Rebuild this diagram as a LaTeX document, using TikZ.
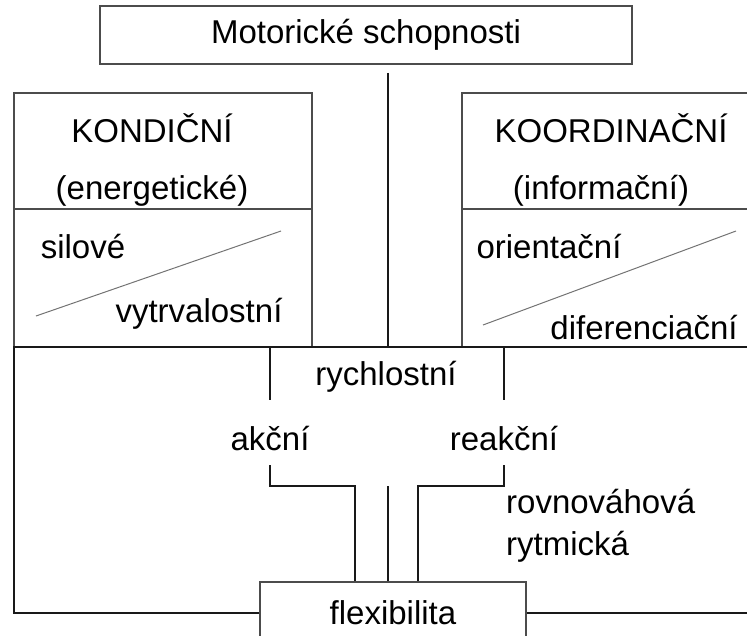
\documentclass[tikz,border=0pt]{standalone}
\usepackage{fontspec}
\setmainfont{Liberation Sans}
\usetikzlibrary{positioning,calc}
\tikzset{
  label-text/.style={font=\fontsize{33}{38}\selectfont,inner sep=0pt,anchor=base},
  frame-box/.style={draw=black!70,line width=1.5pt},
  link/.style={draw=black!90,line width=1.5pt},
  slash/.style={draw=black!55,line width=1pt},
}
\begin{document}
\begin{tikzpicture}[x=1pt,y=-1pt]
  \clip (0,0) rectangle (747,635);
  % top box
  \node[frame-box,font=\fontsize{33}{38}\selectfont,minimum width=532pt,minimum height=58pt,inner sep=0pt] (motor) at (366,35) {Motorické schopnosti};
  % side boxes
  \draw[frame-box] (14,93) rectangle (312,347);
  \draw[frame-box] (14,209) -- (312,209);
  \draw[frame-box] (462,93) rectangle (760,347);
  \draw[frame-box] (462,209) -- (760,209);
  \node[label-text] (kondic) at (152,142) {KONDIČNÍ};
  \node[label-text] (energ) at (152,199) {(energetické)};
  \node[label-text] (silove) at (83,258) {silové};
  \node[label-text] (vytrv) at (199,322) {vytrvalostní};
  \draw[slash] (36,316) -- (281,231);
  \node[label-text] (koordin) at (611,142) {KOORDINAČNÍ};
  \node[label-text] (inform) at (601,199) {(informační)};
  \node[label-text] (orient) at (549,258) {orientační};
  \node[label-text] (difer) at (644,339) {diferenciační};
  \draw[slash] (483,325) -- (736,231);
  % lower part
  \node[label-text] (rychl) at (386,385) {rychlostní};
  \node[label-text] (akcni) at (270,450) {akční};
  \node[label-text] (reakcni) at (504,450) {reakční};
  \node[label-text,anchor=base west] (rovn) at (506,513) {rovnováhová};
  \node[label-text,anchor=base west] (rytm) at (506,555) {rytmická};
  \node[frame-box,font=\fontsize{33}{38}\selectfont,minimum width=266pt,minimum height=62pt,inner sep=0pt] (flex) at (393,613) {flexibilita};
  % connectors
  \coordinate (hub) at (388,347);
  \draw[link,shorten <=8pt] (hub |- motor.south) -- (hub);
  \draw[link] (flex.west) -- (14,613) -- (14,347) -- (760,347);
  \draw[link] (flex.east) -- (760,613);
  \draw[link] (akcni |- hub) -- ++(0,53);
  \draw[link] (reakcni |- hub) -- ++(0,53);
  \coordinate (akknee) at (355,486);
  \coordinate (midknee) at (388,486);
  \coordinate (reknee) at (418,486);
  \draw[link,shorten <=15pt] (akcni.base) |- (akknee) -- (akknee |- flex.north);
  \draw[link] (midknee) -- (midknee |- flex.north);
  \draw[link,shorten <=15pt] (reakcni.base) |- (reknee) -- (reknee |- flex.north);
\end{tikzpicture}
\end{document}
